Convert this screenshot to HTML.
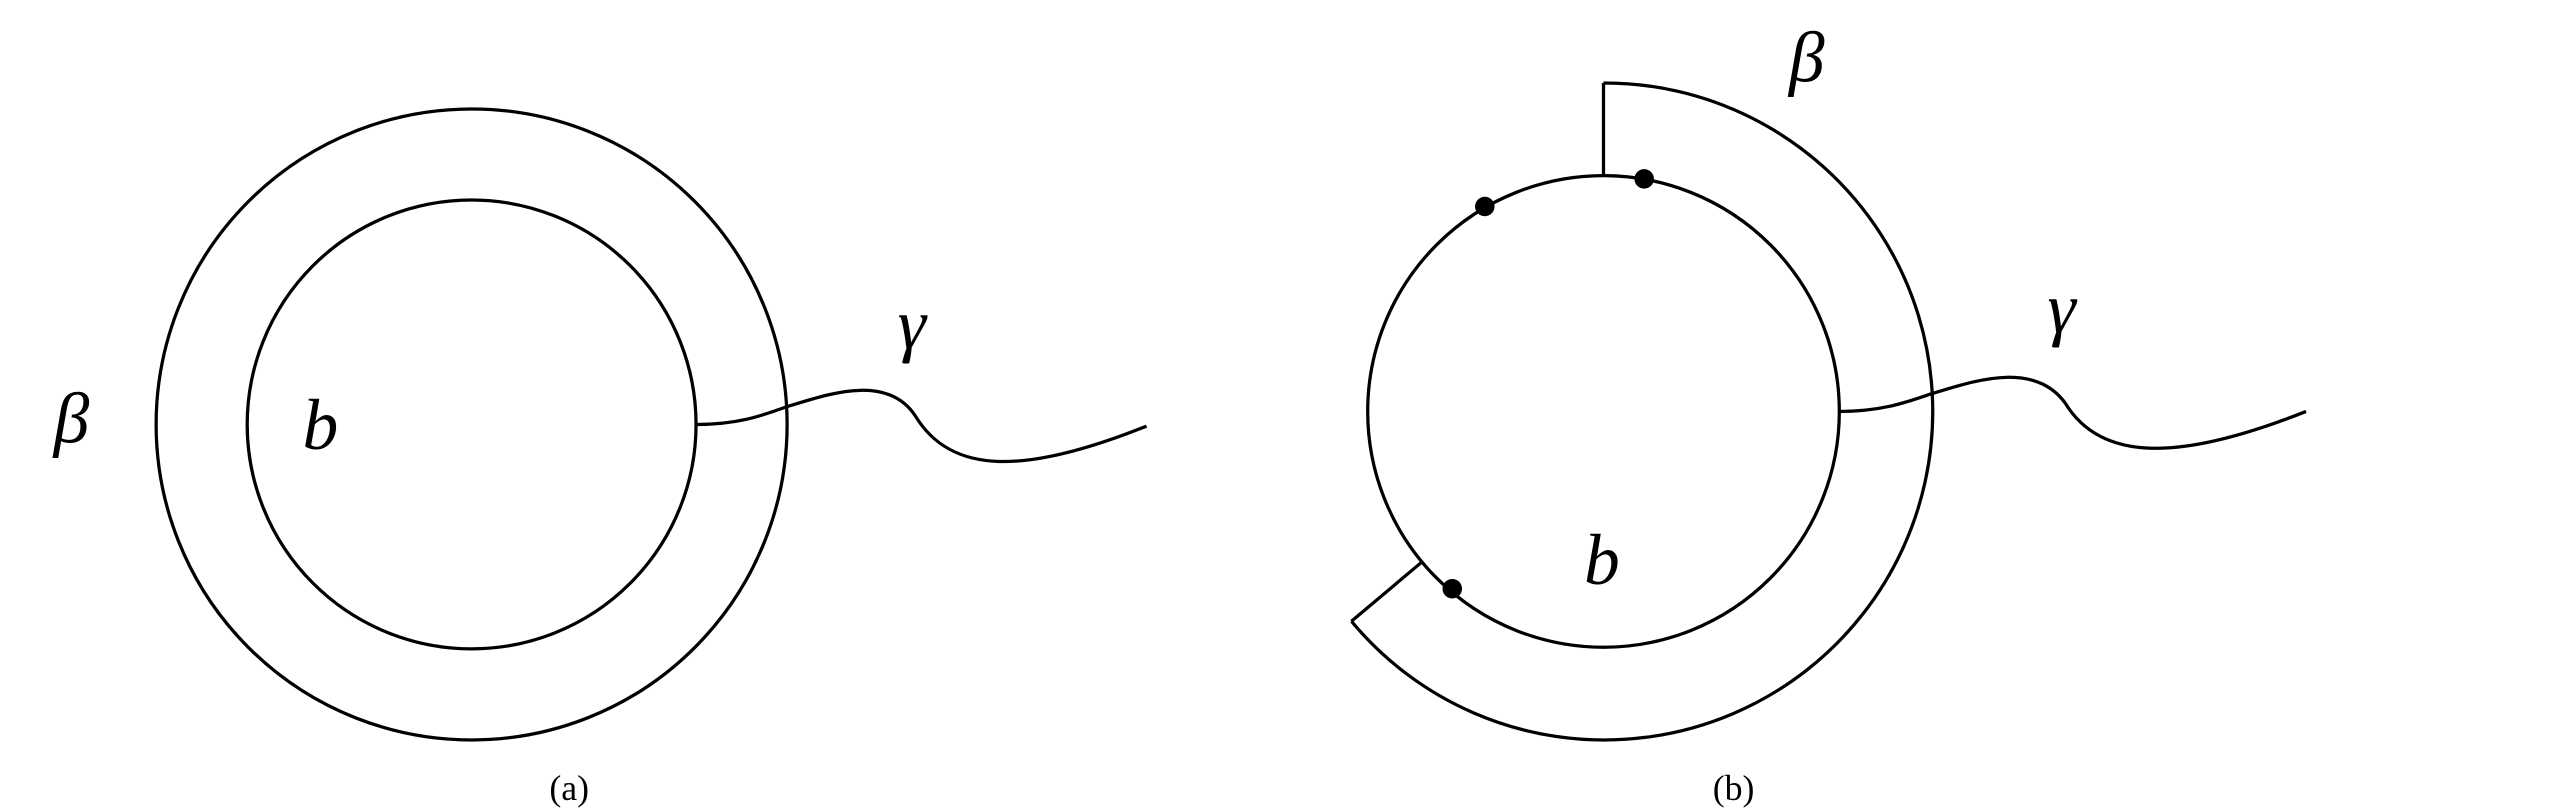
<!DOCTYPE html>
<html>
<head>
<meta charset="utf-8">
<style>
html,body{margin:0;padding:0;background:#fff;}
svg{display:block;}
text{font-family:"Liberation Serif","DejaVu Serif",serif;fill:#000;}
.lbl{font-style:italic;font-size:44px;}
.cap{font-size:22px;}
</style>
</head>
<body>
<svg width="2550" height="812" viewBox="0 0 1568 499.3" xmlns="http://www.w3.org/2000/svg">
  <g fill="none" stroke="#000" stroke-width="2">
    <circle cx="290" cy="261" r="194"/>
    <circle cx="290" cy="261" r="138"/>
    <path d="M428,261 C455,261 470,255 484,250 C505,244 545,228 563,256 C585,292 630,292 705,262"/>
  </g>
  <text class="lbl" x="33" y="272">β</text>
  <text class="lbl" x="186" y="276">b</text>
  <text class="lbl" x="552" y="214">γ</text>
  <text class="cap" x="350" y="492" text-anchor="middle">(a)</text>

  <g fill="none" stroke="#000" stroke-width="2">
    <circle cx="986" cy="253" r="145"/>
    <path d="M986,51 A202,202 0 1 1 831,382"/>
    <line x1="986" y1="51" x2="986" y2="108"/>
    <line x1="831" y1="382" x2="875" y2="345"/>
    <path d="M1131,253 C1158,253 1173,247 1188,242 C1209,236 1250,220 1270,248 C1292,284 1340,284 1418,253"/>
  </g>
  <g fill="#000">
    <circle cx="913" cy="127" r="6"/>
    <circle cx="1011" cy="110" r="6"/>
    <circle cx="893" cy="362" r="6"/>
  </g>
  <text class="lbl" x="1100" y="50">β</text>
  <text class="lbl" x="1259" y="204">γ</text>
  <text class="lbl" x="974" y="359">b</text>
  <text class="cap" x="1066" y="492" text-anchor="middle">(b)</text>
</svg>
</body>
</html>
